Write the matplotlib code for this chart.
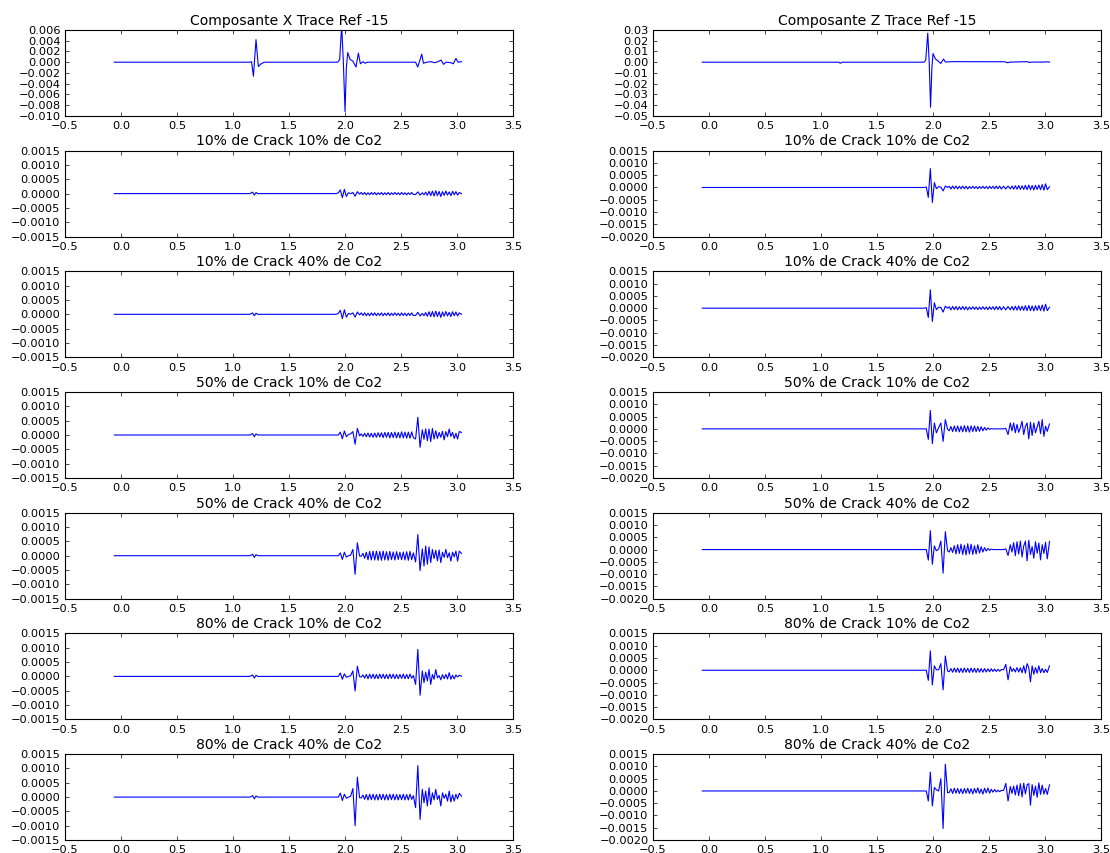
"""
Traces sismiques : composantes X et Z, trace de reference et six cas
(pourcentage de fissures / pourcentage de CO2).
"""

import matplotlib
matplotlib.use("Agg")
import matplotlib.pyplot as plt
import numpy as np
from matplotlib.ticker import MultipleLocator

# amplitudes are written in units of 1e-4
UNIT = 1e-4

# ── Reference traces ─────────────────────────────────────────────────────────

T_REF_X = [-0.06, 1.15, 1.165, 1.182, 1.205, 1.226, 1.25, 1.28,
           1.935, 1.952, 1.97, 1.985, 2.0, 2.012, 2.024, 2.045, 2.07, 2.098,
           2.119, 2.137, 2.16, 2.18, 2.2,
           2.63, 2.649, 2.685, 2.70, 2.73, 2.768, 2.80, 2.83, 2.857, 2.88,
           2.90, 2.946, 2.967, 2.99, 3.01, 3.04]
A_REF_X = [0, 0, 1, -26, 42, -8, -3, 0,
           0, 5, 68, 0, -92, -10, 18, 5, 2, -9,
           17, -3, 1, -2, 0,
           0, -9, 15, -2, 0, 1, -1, 1, 4, -4,
           0, -1, -3, 7, 0, 1]

T_REF_Z = [-0.06, 1.16, 1.172, 1.19,
           1.92, 1.935, 1.953, 1.966, 1.978, 1.99, 2.0, 2.022, 2.047, 2.069,
           2.094, 2.11, 2.17,
           2.64, 2.665, 2.69, 2.845, 2.86, 2.88, 2.98, 3.0, 3.04]
A_REF_Z = [0, 0, -10, 0,
           0, 20, 270, 0, -420, -50, 80, 30, 10, -12,
           30, 2, 5,
           4, -5, 1, 5, -3, 1, 1, 3, 1]

# ── Common time samples for the 12 lower traces ──────────────────────────────

T_PRE = [-0.06, 1.15, 1.175, 1.19, 1.205, 1.22, 1.92]
T_S1 = [1.94, 1.958, 1.976, 1.994, 2.012, 2.03, 2.05, 2.07, 2.09, 2.11, 2.13]
T_W1 = [2.145, 2.16, 2.175, 2.19, 2.205, 2.22, 2.235, 2.25, 2.265, 2.28,
        2.295, 2.31, 2.325, 2.34, 2.355, 2.37, 2.385, 2.40, 2.415, 2.43,
        2.445, 2.46, 2.475, 2.49, 2.505, 2.52, 2.535, 2.55, 2.565, 2.58,
        2.595, 2.61]
T_S2 = [2.63, 2.65, 2.67, 2.69]
T_W2 = [2.705, 2.72, 2.735, 2.75, 2.765, 2.78, 2.795, 2.81, 2.825, 2.84,
        2.855, 2.87, 2.885, 2.90, 2.915, 2.93, 2.945, 2.96, 2.975, 2.99,
        3.005, 3.02, 3.04]
T_GRID = T_PRE + T_S1 + T_W1 + T_S2 + T_W2

# ── Composante X ─────────────────────────────────────────────────────────────

X_C10_CO10 = [0, 0, 0.5, -0.5, 0.4, 0, 0,
              0.3, 1.3, -1.4, 1.5, -1.0, 0.3, 0, 0.4, -0.9, 0.7, -0.2,
              0.4, -0.3, 0.4, -0.4, 0.3, -0.4, 0.4, -0.3, 0.4, -0.4,
              0.3, -0.3, 0.4, -0.4, 0.3, -0.3, 0.4, -0.4, 0.3, -0.3,
              0.4, -0.3, 0.3, -0.4, 0.4, -0.3, 0.3, -0.4, 0.3, -0.3,
              0.4, -0.3,
              -0.3, 0.6, -0.5, 0.3,
              -0.4, 0.5, -0.6, 0.8, -0.7, 0.9, -0.8, 1.0, -0.7, 0.8,
              -1.0, 0.7, -0.6, 0.9, -0.5, 0.6, -0.7, 0.8, -0.4, 0.7,
              -0.5, 0.4, 0.0]

X_C10_CO40 = [0, 0, 0.5, -0.5, 0.4, 0, 0,
              0.3, 1.4, -1.5, 1.6, -1.0, 0.3, 0, 0.5, -1.0, 0.8, -0.2,
              0.5, -0.4, 0.5, -0.5, 0.4, -0.5, 0.5, -0.4, 0.5, -0.5,
              0.4, -0.4, 0.5, -0.5, 0.4, -0.4, 0.5, -0.5, 0.4, -0.4,
              0.5, -0.4, 0.4, -0.5, 0.5, -0.4, 0.4, -0.5, 0.4, -0.4,
              0.5, -0.4,
              -0.4, 0.7, -0.6, 0.3,
              -0.5, 0.6, -0.7, 0.9, -0.8, 1.0, -0.9, 1.1, -0.8, 0.9,
              -1.1, 0.8, -0.7, 1.0, -0.6, 0.7, -0.8, 0.9, -0.5, 0.8,
              -0.6, 0.5, 0.0]

X_C50_CO10 = [0, 0, 0.5, -0.6, 0.4, 0, 0,
              0, 1.0, -1.3, 1.4, -0.6, 0.2, 0.4, 1.2, -3.2, 2.3, -0.3,
              0.4, -0.5, 0.6, -0.6, 0.7, -0.7, 0.6, -0.8, 0.7, -0.8,
              0.8, -0.7, 0.8, -0.9, 0.9, -0.8, 0.9, -1.0, 0.9, -0.9,
              1.0, -1.0, 0.9, -1.0, 1.1, -1.0, 1.0, -1.1, 1.0, -1.1,
              1.1, -0.9,
              -1.4, 6.2, -4.3, 1.8,
              -1.5, 2.1, -2.0, 2.1, -2.3, 2.3, -1.4, 1.5, -1.2, 0.9,
              -0.8, 1.3, -1.7, 1.2, -0.6, 2.1, -0.5, 0.9, -1.2, 0.6,
              -1.4, 1.2, 0.9]

X_C50_CO40 = [0, 0, 0.5, -0.6, 0.4, 0, 0,
              0, 1.0, -1.3, 1.2, -0.5, 0, 0.2, 2.2, -6.5, 4.5, -0.1,
              -0.2, 0.8, -0.9, 1.2, -1.4, 1.5, -1.5, 1.6, -1.5, 1.6,
              -1.6, 1.5, -1.6, 1.6, -1.5, 1.4, -1.6, 1.5, -1.4, 1.3,
              -1.5, 1.4, -1.3, 1.2, -1.4, 1.3, -1.5, 1.4, -1.6, 1.5,
              -1.4, 1.0,
              -2.2, 7.4, -5.2, 2.4,
              -3.6, 3.4, -3.0, 3.1, -2.4, 2.2, -1.0, 1.9, -1.8, 2.0,
              -2.4, 1.2, -0.6, 2.2, -0.7, 1.0, -1.9, 1.2, -0.4, 1.6,
              -1.9, 1.6, 0.8]

X_C80_CO10 = [0, 0, 0.5, -0.6, 0.4, 0, 0,
              0, 1.2, -1.0, 0.9, -0.3, 0, 0.2, 1.9, -5.1, 3.6, -0.1,
              -0.2, 0.5, -0.6, 0.7, -0.8, 0.8, -0.7, 0.8, -0.8, 0.7,
              -0.8, 0.8, -0.7, 0.8, -0.8, 0.7, -0.8, 0.8, -0.7, 0.8,
              -0.8, 0.7, -0.8, 0.7, -0.7, 0.8, -0.8, 0.7, -0.8, 0.8,
              -0.6, 0.3,
              -2.8, 9.4, -6.6, 1.9,
              -2.2, 1.5, -1.6, 2.4, -2.8, 0.7, -1.0, 2.4, -0.5, 0.3,
              -1.2, 0.6, -0.8, 0.7, -0.9, 1.3, -1.0, 0.4, -0.9, 0.5,
              -0.2, 0.4, 0.1]

X_C80_CO40 = [0, 0, 0.5, -0.6, 0.4, 0, 0,
              0, 1.4, -1.2, 1.0, -0.4, 0, 0.3, 3.0, -10.0, 7.0, -0.2,
              -0.3, 0.7, -0.8, 0.9, -1.0, 1.0, -0.9, 1.0, -1.0, 0.9,
              -1.0, 1.0, -0.9, 1.0, -1.0, 0.9, -1.0, 1.0, -0.9, 1.0,
              -1.0, 0.9, -1.0, 0.9, -0.9, 1.0, -1.0, 0.9, -1.0, 1.0,
              -0.8, 0.5,
              -3.7, 11.0, -7.8, 2.7,
              -2.0, 2.1, -3.1, 3.3, -2.6, 1.5, -1.0, 2.7, -0.8, 0.6,
              -3.1, 1.5, -0.4, 1.0, -1.4, 2.1, -1.7, 0.8, -1.4, 1.0,
              -0.6, 1.3, 0.3]

# ── Composante Z ─────────────────────────────────────────────────────────────

Z_C10_CO10 = [0, 0, 0, 0, 0, 0, 0,
              0.2, -4.0, 7.7, -6.1, 2.0, -0.5, 0.3, 0.2, -1.4, 0.6, 0,
              0.5, -0.6, 0.6, -0.5, 0.6, -0.6, 0.5, -0.5, 0.6, -0.5,
              0.5, -0.6, 0.4, -0.4, 0.5, -0.4, 0.4, -0.5, 0.4, -0.4,
              0.5, -0.4, 0.4, -0.5, 0.5, -0.4, 0.5, -0.5, 0.6, -0.5,
              0.6, -0.6,
              0.5, -0.6, 0.6, -0.6,
              0.6, -0.7, 0.7, -0.7, 0.8, -0.8, 0.7, -0.8, 0.9, -0.9,
              1.0, -0.9, 0.8, -1.0, 0.9, -0.8, 1.0, -0.9, 1.2, -1.1,
              1.5, -0.9, 0.3]

Z_C10_CO40 = [0, 0, 0, 0, 0, 0, 0,
              0.2, -3.8, 7.5, -5.4, 2.2, -0.6, 0.4, 0.3, -1.6, 0.8, 0,
              0.6, -0.7, 0.7, -0.6, 0.7, -0.7, 0.6, -0.6, 0.7, -0.6,
              0.6, -0.7, 0.5, -0.5, 0.6, -0.5, 0.5, -0.6, 0.5, -0.5,
              0.6, -0.5, 0.5, -0.6, 0.6, -0.5, 0.6, -0.6, 0.7, -0.6,
              0.7, -0.7,
              0.6, -0.7, 0.7, -0.7,
              0.7, -0.8, 0.8, -0.8, 0.9, -0.9, 0.8, -0.9, 1.0, -1.0,
              1.1, -1.0, 0.9, -1.1, 1.0, -0.9, 1.1, -1.0, 1.3, -1.2,
              1.6, -1.0, 0.4]

Z_C50_CO10 = [0, 0, 0, 0, 0, 0, 0,
              0, -4.3, 7.5, -6.0, 2.4, -1.6, 0.5, 2.4, -5.1, 3.8, -0.2,
              -0.8, 1.0, -1.1, 1.2, -1.1, 1.2, -1.2, 1.1, -1.2, 1.3,
              -1.2, 1.2, -1.3, 1.2, -1.1, 1.2, -1.1, 1.0, -1.0, 0.9,
              -0.8, 0.6, -0.5, 0.4, -0.2, 0.1, 0, 0, 0, 0,
              0, 0,
              0, 0.2, -2.3, 2.4,
              -0.8, 2.4, -1.6, 1.8, -1.4, 0.5, 3.1, -2.3, 1.0, 2.4,
              -4.1, 2.7, -2.7, 2.4, -1.6, 0.8, 3.1, -1.9, 3.8, -3.0,
              1.1, -1.0, 2.0]

Z_C50_CO40 = [0, 0, 0, 0, 0, 0, 0,
              0, -4.3, 7.7, -6.0, 1.5, -0.5, 0.2, 3.5, -9.6, 7.3, -0.5,
              -1.0, 0.8, -1.2, 1.6, -1.8, 2.0, -1.6, 2.2, -2.0, 1.8,
              -2.2, 2.4, -1.8, 2.2, -2.0, 1.6, -1.8, 2.0, -1.4, 1.2,
              -1.0, 0.8, -0.6, 0.5, -0.3, 0.2, 0, 0, 0, 0,
              0, 0,
              0, 0.3, -2.4, 2.0,
              -1.0, 2.8, -2.5, 3.2, -1.8, 3.5, -3.0, 1.5, 3.4, -4.6,
              3.8, -2.0, 1.2, -3.5, 3.2, -1.5, 2.7, -4.2, 2.0, -1.6,
              3.0, -3.8, 3.3]

Z_C80_CO10 = [0, 0, 0, 0, 0, 0, 0,
              0, -4.1, 7.9, -6.0, 1.8, 0.2, 0.2, 2.7, -8.0, 5.8, -0.3,
              -0.6, 0.7, -0.8, 0.9, -0.8, 0.9, -0.9, 0.8, -0.9, 0.9,
              -0.8, 0.8, -0.9, 0.9, -0.8, 0.8, -0.9, 0.8, -0.8, 0.7,
              -0.8, 0.7, -0.7, 0.6, -0.6, 0.6, -0.5, 0.5, -0.5, 0.4,
              -0.4, 0.3,
              0.2, 2.4, -3.9, 1.5,
              -0.5, 0.7, -0.7, 1.1, -0.7, 1.0, -1.0, 1.8, -1.2, 2.7,
              1.0, -4.7, 1.8, -1.6, 1.1, -1.2, 1.8, -1.0, 0.7, -1.0,
              0.4, -0.9, 1.8]

Z_C80_CO40 = [0, 0, 0, 0, 0, 0, 0,
              0, -4.1, 7.7, -6.1, 1.4, 0.5, 0, 5.0, -15.3, 10.9, -0.7,
              -0.6, 0.9, -1.0, 1.1, -0.9, 1.0, -1.0, 0.9, -1.1, 1.0,
              -0.9, 1.1, -1.0, 0.9, -1.2, 1.0, -0.8, 1.3, -1.0, 0.8,
              -1.3, 1.1, -0.8, 1.2, -0.9, 0.7, -0.5, 0.6, -0.4, 0.3,
              -0.3, 0.2,
              0.2, 3.1, -4.1, 1.8,
              -1.0, 2.0, -1.6, 2.4, -1.9, 3.0, -2.4, 3.2, -1.2, 2.5,
              3.0, -5.8, 2.6, -1.8, 2.0, -2.6, 3.3, -1.4, 2.4, -1.3,
              1.0, -1.4, 2.5]

CASES = ["10% de Crack 10% de Co2", "10% de Crack 40% de Co2",
         "50% de Crack 10% de Co2", "50% de Crack 40% de Co2",
         "80% de Crack 10% de Co2", "80% de Crack 40% de Co2"]
X_TRACES = [X_C10_CO10, X_C10_CO40, X_C50_CO10, X_C50_CO40, X_C80_CO10, X_C80_CO40]
Z_TRACES = [Z_C10_CO10, Z_C10_CO40, Z_C50_CO10, Z_C50_CO40, Z_C80_CO10, Z_C80_CO40]

# ── Figure ───────────────────────────────────────────────────────────────────

plt.style.use("classic")
plt.rcParams.update({
    "font.size": 8.2,
    "figure.facecolor": "white",
    "savefig.facecolor": "white",
    "lines.linewidth": 0.8,
    "axes.linewidth": 0.8,
    "axes.titlepad": 4.5,
    "xtick.major.size": 3.2,
    "ytick.major.size": 3.2,
    "xtick.major.pad": 3.2,
    "ytick.major.pad": 3.2,
})

fig, axes = plt.subplots(7, 2, figsize=(11.1, 8.54), dpi=100)
fig.subplots_adjust(left=0.0586, right=0.9919, bottom=0.0152, top=0.9637,
                    wspace=0.3125, hspace=0.406)


def draw(ax, t, amp, title, ylim, ystep):
    ax.plot(t, np.array(amp) * UNIT, color="b")
    ax.set_xlim(-0.5, 3.5)
    ax.xaxis.set_major_locator(MultipleLocator(0.5))
    ax.set_ylim(*ylim)
    ax.yaxis.set_major_locator(MultipleLocator(ystep))
    ax.set_title(title, fontsize=10.1)


draw(axes[0, 0], T_REF_X, A_REF_X, "Composante X Trace Ref -15", (-0.010, 0.006), 0.002)
draw(axes[0, 1], T_REF_Z, A_REF_Z, "Composante Z Trace Ref -15", (-0.05, 0.03), 0.01)

for i, name in enumerate(CASES):
    draw(axes[i + 1, 0], T_GRID, X_TRACES[i], name, (-0.0015, 0.0015), 0.0005)
    draw(axes[i + 1, 1], T_GRID, Z_TRACES[i], name, (-0.0020, 0.0015), 0.0005)

fig.savefig("out.png", dpi=100)
